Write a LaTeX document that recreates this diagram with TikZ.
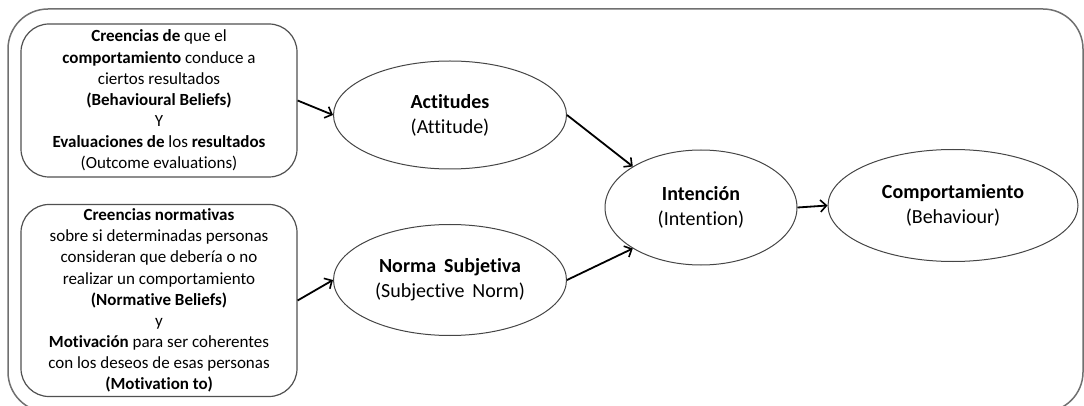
\documentclass[tikz,border=0pt]{standalone}
\usepackage{fontspec}
\setmainfont{Carlito}[RawFeature={-liga}]
\usetikzlibrary{arrows.meta,shapes.geometric}
\definecolor{framegray}{HTML}{707070}
\definecolor{boxgray}{HTML}{505050}
\definecolor{ellgray}{HTML}{454545}
\begin{document}
\begin{tikzpicture}[x=1pt,y=-1pt,
  frame/.style={draw=framegray, line width=1.5pt, rounded corners=40pt},
  beliefbox/.style={draw=boxgray, line width=1.2pt, rounded corners=28pt,
    align=center, inner sep=0pt, font=\fontsize{17}{21.1}\selectfont},
  construct/.style={ellipse, draw=ellgray, line width=1pt, inner sep=0pt,
    align=center, font=\fontsize{20}{25}\selectfont},
  link/.style={line width=1.8pt, -{Straight Barb[length=6pt,width=12pt,line width=1.6pt]}}
]
\useasboundingbox (0,0) rectangle (1084,406);
\clip (0,0) rectangle (1084,406);

% outer frame
\draw[frame] (8,9) rectangle (1083,412);

% belief boxes
\node[beliefbox, minimum width=276pt, minimum height=153pt] (bb) at (159,100.5)
  {\textbf{Creencias de} que el\\
   \textbf{comportamiento} conduce a\\
   ciertos resultados\\
   \textbf{(Behavioural Beliefs)}\\
   Y\\
   \textbf{Evaluaciones de} los \textbf{resultados}\\
   (Outcome evaluations)};

\node[beliefbox, minimum width=276pt, minimum height=192pt] (nb) at (159,300.5)
  {\textbf{Creencias normativas}\\
   sobre si determinadas personas\\
   consideran que debería o no\\
   realizar un comportamiento\\
   \textbf{(Normative Beliefs)}\\
   y\\
   \textbf{Motivación} para ser coherentes\\
   con los deseos de esas personas\\
   \textbf{(Motivation to)}};

% constructs
\node[construct, minimum width=233pt, minimum height=108pt] (att) at (450,115)
  {\textbf{Actitudes}\\(Attitude)};
\node[construct, minimum width=233pt, minimum height=111pt] (sn) at (450,280)
  {\textbf{Norma\, Subjetiva}\\(Subjective\, Norm)};
\node[construct, minimum width=192pt, minimum height=115pt] (int) at (701,207.5)
  {\textbf{Intención}\\(Intention)};
\node[construct, minimum width=250pt, minimum height=112pt] (beh) at (953,205.5)
  {\textbf{Comportamiento}\\(Behaviour)};

% connectors
\draw[link] (bb.east) -- (att.west);
\draw[link] (nb.east) -- (sn.west);
\draw[link] (att.east) -- (int.north west);
\draw[link] (sn.east) -- (int.south west);
\draw[link] (int.east) -- (beh.west);
\end{tikzpicture}
\end{document}
